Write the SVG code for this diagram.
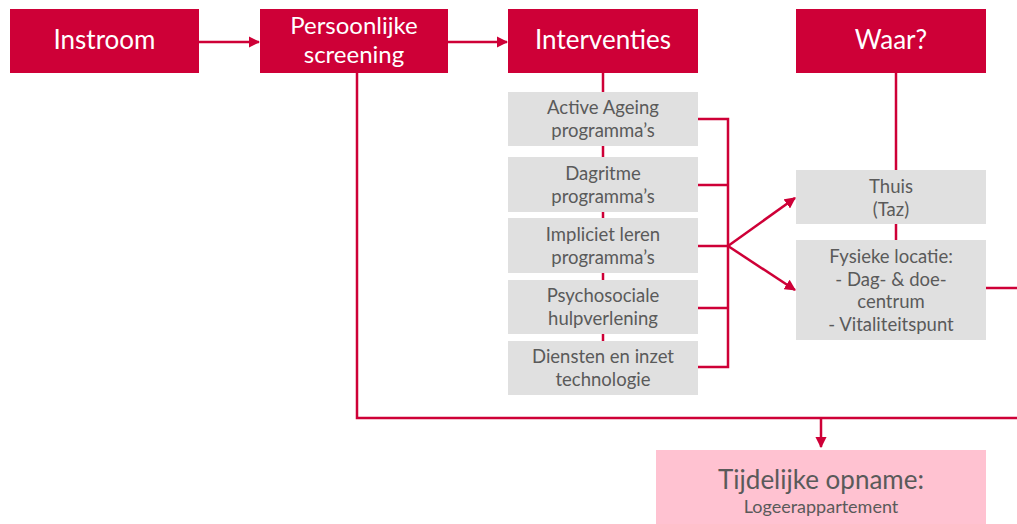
<svg xmlns="http://www.w3.org/2000/svg" width="1017" height="524" viewBox="0 0 1017 524">
<style>
.red{fill:#CE0037}
.gray{fill:#E0E0E0}
.pink{fill:#FFC2D1}
.ht{font-family:Lato,"Open Sans",sans-serif;font-size:26px;fill:#fff;text-anchor:middle}
.gt{font-family:Lato,"Open Sans",sans-serif;font-size:18.5px;fill:#5a5a5a;text-anchor:middle}
.ln{stroke:#CE0037;stroke-width:2.5;fill:none}
</style>
<defs>
<marker id="ah" viewBox="0 0 10 10" refX="9" refY="5" markerWidth="4.5" markerHeight="4.5" orient="auto" markerUnits="strokeWidth">
<path d="M0,0 L10,5 L0,10 z" fill="#CE0037"/>
</marker>
</defs>
<g id="connectors">
<line class="ln" x1="199" y1="42" x2="259" y2="42" marker-end="url(#ah)"/>
<line class="ln" x1="448" y1="42" x2="507" y2="42" marker-end="url(#ah)"/>
<line class="ln" x1="603" y1="73" x2="603" y2="341"/>
<line class="ln" x1="896" y1="73" x2="896" y2="240"/>
<polyline class="ln" points="698,119 728,119 728,367 698,367"/>
<line class="ln" x1="698" y1="185" x2="728" y2="185"/>
<line class="ln" x1="698" y1="246" x2="728" y2="246"/>
<line class="ln" x1="698" y1="308" x2="728" y2="308"/>
<line class="ln" x1="728" y1="246" x2="795" y2="198" marker-end="url(#ah)"/>
<line class="ln" x1="728" y1="246" x2="795" y2="290" marker-end="url(#ah)"/>
<line class="ln" x1="986" y1="288" x2="1017" y2="288"/>
<polyline class="ln" points="357,73 357,418 1017,418"/>
<line class="ln" x1="821" y1="418" x2="821" y2="447" marker-end="url(#ah)"/>
</g>
<g id="instroom"><rect class="red" x="10" y="9" width="189" height="64"/><text class="ht" x="104.5" y="49">Instroom</text></g>
<g id="screening"><rect class="red" x="260" y="9" width="188" height="64"/><text class="ht" x="354" y="34" style="font-size:24px">Persoonlijke</text><text class="ht" x="354" y="63" style="font-size:24px">screening</text></g>
<g id="interventies"><rect class="red" x="508" y="9" width="190" height="64"/><text class="ht" x="603" y="49">Interventies</text></g>
<g id="waar"><rect class="red" x="796" y="9" width="190" height="64"/><text class="ht" x="891" y="49">Waar?</text></g>
<g id="active"><rect class="gray" x="508" y="92" width="190" height="54"/><text class="gt" x="603" y="114">Active Ageing</text><text class="gt" x="603" y="137">programma’s</text></g>
<g id="dagritme"><rect class="gray" x="508" y="157" width="190" height="55"/><text class="gt" x="603" y="180">Dagritme</text><text class="gt" x="603" y="203">programma’s</text></g>
<g id="impliciet"><rect class="gray" x="508" y="218" width="190" height="55"/><text class="gt" x="603" y="241">Impliciet leren</text><text class="gt" x="603" y="264">programma’s</text></g>
<g id="psycho"><rect class="gray" x="508" y="280" width="190" height="54"/><text class="gt" x="603" y="302">Psychosociale</text><text class="gt" x="603" y="325">hulpverlening</text></g>
<g id="diensten"><rect class="gray" x="508" y="341" width="190" height="54"/><text class="gt" x="603" y="363">Diensten en inzet</text><text class="gt" x="603" y="386">technologie</text></g>
<g id="thuis"><rect class="gray" x="796" y="170" width="190" height="54"/><text class="gt" x="891" y="193">Thuis</text><text class="gt" x="891" y="216">(Taz)</text></g>
<g id="fysieke"><rect class="gray" x="796" y="240" width="190" height="100"/><text class="gt" x="891" y="263">Fysieke locatie:</text><text class="gt" x="891" y="285.5">- Dag- &amp; doe-</text><text class="gt" x="891" y="308">centrum</text><text class="gt" x="891" y="330.5">- Vitaliteitspunt</text></g>
<g id="tijdelijk"><rect class="pink" x="656" y="450" width="330" height="74"/><text class="gt" x="821" y="489" style="font-size:26px">Tijdelijke opname:</text><text class="gt" x="821" y="513" style="font-size:18px">Logeerappartement</text></g>
</svg>
